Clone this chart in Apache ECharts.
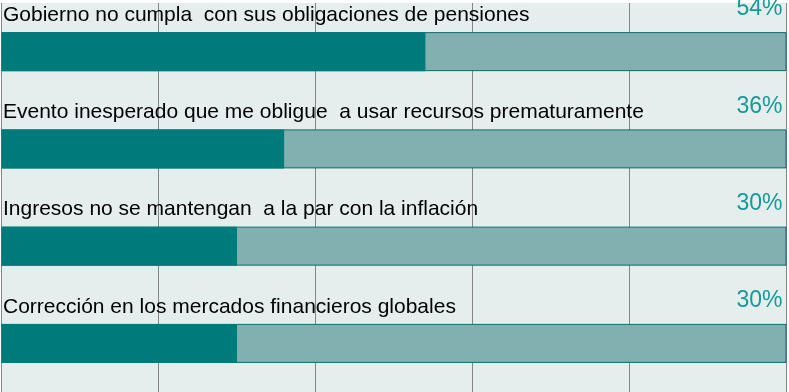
<!DOCTYPE html>
<html><head><meta charset="utf-8">
<script src="https://cdn.jsdelivr.net/npm/echarts@6/dist/echarts.min.js"></script>
<style>html,body{margin:0;padding:0;background:#fff}#c{width:789px;height:392px}</style>
</head><body><div id="c"></div>
<script>
var categories = [
  "Gobierno no cumpla  con sus obligaciones de pensiones",
  "Evento inesperado que me obligue  a usar recursos prematuramente",
  "Ingresos no se mantengan  a la par con la inflación",
  "Corrección en los mercados financieros globales"
];
var values = [54, 36, 30, 30];
var totals = [100, 100, 100, 100];
var pctLabels = ["54%", "36%", "30%", "30%"];

var chart = echarts.init(document.getElementById('c'), null, {renderer: 'canvas'});
chart.setOption({
  animation: false,
  backgroundColor: '#ffffff',
  grid: {left: 1.5, right: 2.5, top: 3, bottom: 0, show: true, backgroundColor: '#E6EEED', borderWidth: 0},
  xAxis: {type: 'value', min: 0, max: 100, interval: 20,
    axisLine: {show: false}, axisTick: {show: false}, axisLabel: {show: false},
    splitLine: {show: true, lineStyle: {color: '#858585', width: 1}}},
  yAxis: {type: 'category', data: categories, inverse: true,
    axisLine: {show: false}, axisTick: {show: false}, axisLabel: {show: false}},
  series: [
    {type: 'bar', data: totals, barWidth: 39, barGap: '-100%', z: 2,
      itemStyle: {color: '#82AFAF', borderColor: '#0F6B6B', borderWidth: 1},
      label: {show: true, position: [1.5, -17], align: 'left', verticalAlign: 'middle',
        fontFamily: 'Liberation Sans', fontSize: 21, color: '#000',
        formatter: function(p){ return categories[p.dataIndex]; }}},
    {type: 'bar', data: values, barWidth: 39, barGap: '-100%', z: 3,
      itemStyle: {color: '#007A7A'}},
    {type: 'bar', data: totals, barWidth: 39, barGap: '-100%', z: 4,
      itemStyle: {color: 'rgba(0,0,0,0)'},
      label: {show: true, position: [781, -23], align: 'right', verticalAlign: 'middle',
        fontFamily: 'Liberation Sans', fontSize: 23, color: '#16999A',
        formatter: function(p){ return pctLabels[p.dataIndex]; }}}
  ]
});
</script></body></html>
